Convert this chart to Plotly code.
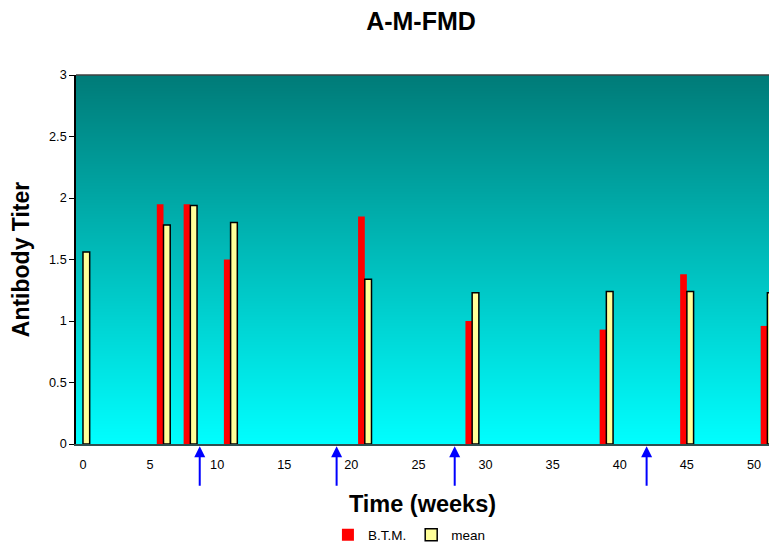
import plotly.graph_objects as go

# ---- data ----
weeks = [0, 6, 8, 11, 21, 29, 39, 45, 51]
btm = [None, 1.95, 1.95, 1.50, 1.85, 1.00, 0.93, 1.38, 0.96]
mean = [1.56, 1.78, 1.94, 1.80, 1.34, 1.23, 1.24, 1.24, 1.23]
vaccination_weeks = [8.7, 18.9, 27.7, 42.0]
x_ticks = [0, 5, 10, 15, 20, 25, 30, 35, 40, 45, 50]
y_ticks = [0, 0.5, 1, 1.5, 2, 2.5, 3]

x_range = [-0.52, 51.12]
y_range = [0, 3]

W, H = 769, 545

fig = go.Figure()

# gradient background (heatmap behind the bars)
fig.add_trace(go.Heatmap(
    x=x_range, y=y_range, z=[[0, 0], [1, 1]],
    zsmooth="best", showscale=False, hoverinfo="skip",
    colorscale=[[0, "#00FFFF"], [1, "#007B78"]],
))

fig.add_trace(go.Bar(
    x=weeks, y=btm, name="B.T.M.", offset=-0.5, width=0.5,
    marker=dict(color="#FF0000", line=dict(width=0)),
))
fig.add_trace(go.Bar(
    x=weeks, y=mean, name="mean", offset=0, width=0.5,
    marker=dict(color="#FFFF99", line=dict(color="#000000", width=1.5)),
))

for w in vaccination_weeks:
    fig.add_annotation(
        x=w, xref="x", y=-0.006, yref="paper",
        ax=0, ay=41, axref="pixel", ayref="pixel",
        showarrow=True, arrowhead=2, arrowsize=1.1, arrowwidth=2,
        arrowcolor="#0000FF", text="",
    )

fig.update_layout(
    width=W, height=H,
    margin=dict(l=76, r=0, t=75, b=H - 444, autoexpand=False),
    paper_bgcolor="white", plot_bgcolor="#00FFFF",
    barmode="overlay",
    font=dict(family="Arial, Liberation Sans, sans-serif", size=12.7, color="#000000"),
    title=dict(text="<b>A-M-FMD</b>", x=421 / W, xanchor="center",
               y=1 - 21 / H, yanchor="middle",
               font=dict(size=25, color="#000000")),
    showlegend=True,
    legend=dict(orientation="h", x=370 / W, xanchor="center",
                yref="container", y=1 - 535 / H, yanchor="middle",
                font=dict(size=13.5), itemwidth=30,
                bgcolor="rgba(0,0,0,0)"),
    xaxis=dict(range=x_range, tickvals=x_ticks, ticks="", showgrid=False,
               zeroline=False, showline=True, linecolor="#2F4F4F", linewidth=1.5,
               mirror=False, ticklabelstandoff=8, automargin=False,
               title=dict(text="<b>Time (weeks)</b>", font=dict(size=23.5), standoff=25)),
    yaxis=dict(range=y_range, tickvals=y_ticks, ticks="outside", ticklen=5,
               tickcolor="#000000", showgrid=False, zeroline=False, automargin=False,
               showline=True, linecolor="#000000", linewidth=1.5, mirror=False,
               title=dict(text="<b>Antibody Titer</b>", font=dict(size=23), standoff=13)),
    shapes=[dict(type="line", xref="paper", yref="paper", x0=0, x1=1, y0=1, y1=1,
                 line=dict(color="#404040", width=1.5))],
)

fig.write_html(
    "out.html",
    config={"displayModeBar": False},
    post_script="document.body.style.margin='0';document.body.style.overflow='hidden';",
)
